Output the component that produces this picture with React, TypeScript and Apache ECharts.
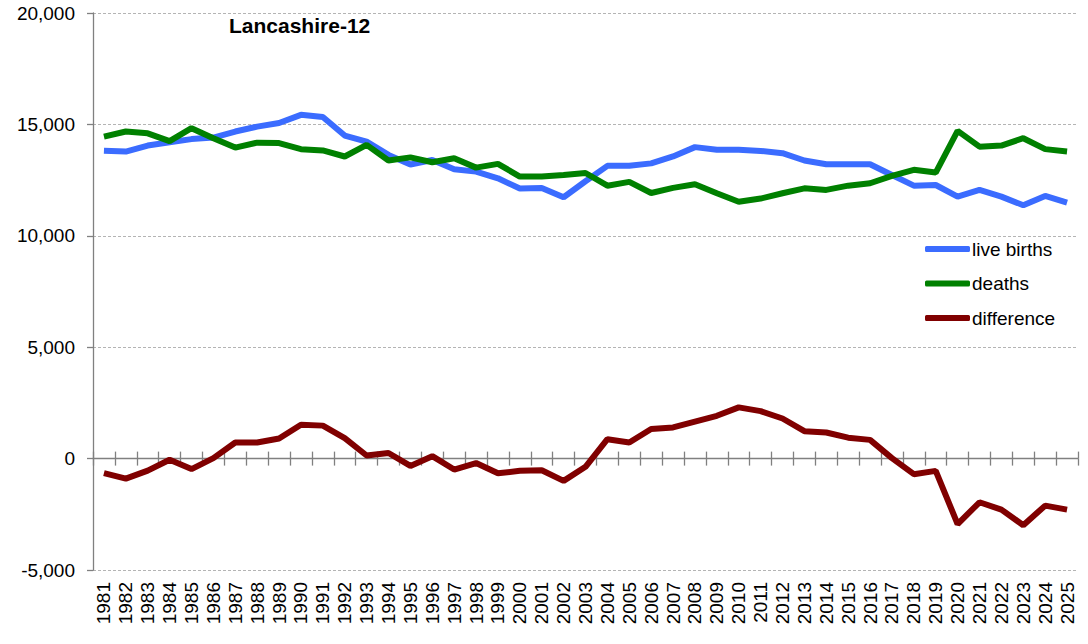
import React, { useEffect, useRef } from "react";
import * as echarts from "echarts";

const years: string[] = [
  "1981","1982","1983","1984","1985","1986","1987","1988","1989","1990",
  "1991","1992","1993","1994","1995","1996","1997","1998","1999","2000",
  "2001","2002","2003","2004","2005","2006","2007","2008","2009","2010",
  "2011","2012","2013","2014","2015","2016","2017","2018","2019","2020",
  "2021","2022","2023","2024","2025",
];

const liveBirths: number[] = [
  13820, 13780, 14050, 14200, 14340, 14410, 14680, 14900, 15060, 15430,
  15330, 14500, 14230, 13630, 13200, 13400, 12990, 12880, 12580, 12120,
  12150, 11730, 12450, 13140, 13140, 13250, 13560, 13980, 13860, 13860,
  13810, 13710, 13380, 13210, 13210, 13210, 12730, 12250, 12280, 11760,
  12060, 11760, 11370, 11790, 11490,
];

const deaths: number[] = [
  14450, 14680, 14600, 14250, 14830, 14380, 13960, 14180, 14160, 13890,
  13830, 13560, 14080, 13380, 13520, 13300, 13480, 13060, 13230, 12660,
  12660, 12730, 12820, 12250, 12420, 11920, 12150, 12310, 11910, 11530,
  11670, 11910, 12130, 12060, 12250, 12360, 12690, 12960, 12840, 14710,
  14000, 14050, 14380, 13890, 13780,
];

const difference: number[] = [
  -650, -900, -540, -50, -470, 20, 720, 720, 900, 1520,
  1480, 920, 140, 250, -330, 110, -490, -200, -660, -550,
  -520, -1000, -370, 870, 720, 1330, 1400, 1660, 1920, 2300,
  2130, 1800, 1230, 1170, 940, 840, 20, -700, -550, -2940,
  -1960, -2290, -2990, -2110, -2290,
];

const yTicks = { min: -5000, max: 20000, interval: 5000 };

const FONT = "'Liberation Sans', Arial, sans-serif";
const AXIS_GREY = "#808080";

export default function App() {
  const ref = useRef<HTMLDivElement>(null);

  useEffect(() => {
    if (!ref.current) return;
    const chart = echarts.init(ref.current, undefined, { renderer: "svg" });
    const option: any = {
      animation: false,
      backgroundColor: "#ffffff",
      textStyle: { fontFamily: FONT },
      title: {
        text: "Lancashire-12",
        left: 224,
        top: 10,
        textStyle: { fontFamily: FONT, fontSize: 21, fontWeight: "bold", color: "#000" },
      },
      legend: {
        orient: "vertical",
        left: 920,
        top: 234,
        icon: "roundRect",
        itemWidth: 45,
        itemHeight: 6,
        itemGap: 14.5,
        data: ["live births", "deaths", "difference"],
        textStyle: { fontFamily: FONT, fontSize: 19, color: "#000", lineHeight: 20, padding: [0, 0, 0, -3] },
      },
      grid: { left: 93, right: 10, top: 13, bottom: 74, containLabel: false },
      xAxis: [
        {
          type: "category",
          data: years,
          position: "bottom",
          boundaryGap: true,
          axisLine: { show: false, onZero: false },
          axisTick: { show: false },
          axisLabel: {
            rotate: 90,
            margin: 12,
            fontSize: 19,
            color: "#000",
            fontFamily: FONT,
            interval: 0,
          },
          splitLine: { show: false },
        },
        {
          type: "category",
          data: years,
          position: "bottom",
          boundaryGap: true,
          axisLine: { show: true, onZero: true, onZeroAxisIndex: 0, lineStyle: { color: AXIS_GREY, width: 1.3 } },
          axisTick: { show: true, inside: false, length: 7, interval: 0, lineStyle: { color: AXIS_GREY, width: 1.3 } },
          axisLabel: { show: false },
          splitLine: { show: false },
        },
        {
          type: "category",
          data: years,
          position: "bottom",
          boundaryGap: true,
          axisLine: { show: false, onZero: true, onZeroAxisIndex: 1 },
          axisTick: { show: true, inside: true, length: 7, interval: 0, lineStyle: { color: AXIS_GREY, width: 1.3 } },
          axisLabel: { show: false },
          splitLine: { show: false },
        },
      ],
      yAxis: [
        {
          type: "value",
          position: "left",
          min: yTicks.min,
          max: yTicks.max,
          interval: yTicks.interval,
          axisLine: { show: true, onZero: false, lineStyle: { color: AXIS_GREY, width: 1.3 } },
          axisTick: { show: true, length: 6, lineStyle: { color: AXIS_GREY, width: 1.3 } },
          axisLabel: {
            margin: 18,
            fontSize: 19,
            color: "#000",
            fontFamily: FONT,
            formatter: (v: number) => v.toLocaleString("en-US"),
          },
          splitLine: { show: true, lineStyle: { color: "#b4b4b4", type: [3, 2], width: 1 } },
        },
        {
          type: "value",
          position: "right",
          show: false,
          min: yTicks.min,
          max: yTicks.max,
          interval: yTicks.interval,
          splitLine: { show: false },
        },
      ],
      series: [
        {
          name: "live births",
          type: "line",
          data: liveBirths,
          xAxisIndex: 0,
          yAxisIndex: 0,
          symbol: "none",
          color: "#3b6cff",
          lineStyle: { width: 6, color: "#3b6cff" },
          z: 3,
        },
        {
          name: "deaths",
          type: "line",
          data: deaths,
          xAxisIndex: 0,
          yAxisIndex: 0,
          symbol: "none",
          color: "#008000",
          lineStyle: { width: 6, color: "#008000" },
          z: 4,
        },
        {
          name: "difference",
          type: "line",
          data: difference,
          xAxisIndex: 0,
          yAxisIndex: 0,
          symbol: "none",
          color: "#800000",
          lineStyle: { width: 6, color: "#800000" },
          z: 5,
        },
      ],
    };
    chart.setOption(option);
    return () => chart.dispose();
  }, []);

  return (
    <div
      ref={ref}
      style={{ position: "absolute", left: 0, top: 0, width: 1088, height: 644, background: "#fff" }}
    />
  );
}
